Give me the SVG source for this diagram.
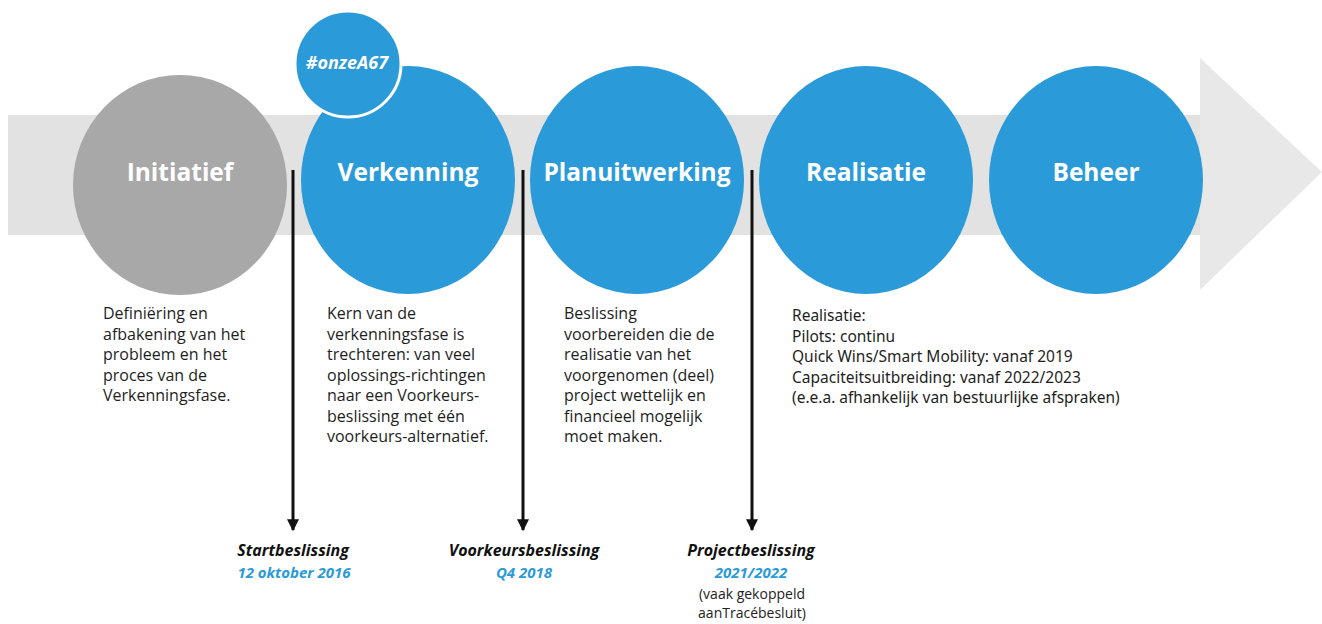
<svg xmlns="http://www.w3.org/2000/svg" width="1322" height="624" viewBox="0 0 1322 624">
<defs>
<style>
.phase{font-family:"Open Sans","Liberation Sans",sans-serif;font-weight:700;font-size:24.5px;fill:#fff;text-anchor:middle}
.desc{font-family:"Open Sans","Liberation Sans",sans-serif;font-size:16px;fill:#1e1e1e}
.desc2{font-family:"Noto Sans","Liberation Sans",sans-serif;font-size:15.5px;fill:#1e1e1e}
.ms{font-family:"Open Sans","Liberation Sans",sans-serif;font-weight:700;font-style:italic;font-size:16px;fill:#111;text-anchor:middle}
.date{font-family:"Open Sans","Liberation Sans",sans-serif;font-weight:700;font-style:italic;font-size:15px;fill:#2a9ad8;text-anchor:middle}
.note{font-family:"Open Sans","Liberation Sans",sans-serif;font-size:14px;fill:#222;text-anchor:middle}
.blue{fill:#2a9ad8}
.vline{stroke:#111;stroke-width:3}
</style>
<marker id="ah" viewBox="0 0 10 10" refX="9" refY="5" markerWidth="4" markerHeight="4" orient="auto" markerUnits="strokeWidth">
<path d="M0,0 L10,5 L0,10 z" fill="#111"/>
</marker>
</defs>
<rect width="1322" height="624" fill="#fff"/>
<g id="band">
<rect x="8" y="115" width="1194" height="120" fill="#e2e2e2"/>
<polygon points="1200,58 1322,172 1200,290" fill="#e8e8e8"/>
</g>
<g id="connectors">
<line class="vline" x1="293" y1="170" x2="293" y2="530" marker-end="url(#ah)"/>
<line class="vline" x1="523" y1="170" x2="523" y2="530" marker-end="url(#ah)"/>
<line class="vline" x1="752" y1="170" x2="752" y2="530" marker-end="url(#ah)"/>
</g>
<g id="initiatief">
<ellipse cx="180" cy="185" rx="107" ry="110" fill="#a8a8a8"/>
<text class="phase" x="180" y="181">Initiatief</text>
</g>
<g id="verkenning">
<ellipse class="blue" cx="408" cy="180" rx="107" ry="114"/>
<text class="phase" x="408" y="181">Verkenning</text>
</g>
<g id="onzeA67">
<circle class="blue" cx="348" cy="64" r="53" stroke="#fff" stroke-width="3"/>
<text x="347" y="69" font-family="Open Sans, Liberation Sans, sans-serif" font-weight="700" font-style="italic" font-size="18" fill="#fff" text-anchor="middle">#onzeA67</text>
</g>
<g id="planuitwerking">
<ellipse class="blue" cx="637" cy="180" rx="107" ry="114"/>
<text class="phase" x="637" y="181">Planuitwerking</text>
</g>
<g id="realisatie">
<ellipse class="blue" cx="866" cy="180" rx="107" ry="114"/>
<text class="phase" x="866" y="181">Realisatie</text>
</g>
<g id="beheer">
<ellipse class="blue" cx="1096" cy="180" rx="107" ry="114"/>
<text class="phase" x="1096" y="181">Beheer</text>
</g>
<g id="desc-initiatief">
<text class="desc" x="103" y="319">Definiëring en</text>
<text class="desc" x="103" y="339.5">afbakening van het</text>
<text class="desc" x="103" y="360">probleem en het</text>
<text class="desc" x="103" y="380.5">proces van de</text>
<text class="desc" x="103" y="401">Verkenningsfase.</text>
</g>
<g id="desc-verkenning">
<text class="desc" x="327" y="319">Kern van de</text>
<text class="desc" x="327" y="339.5">verkenningsfase is</text>
<text class="desc" x="327" y="360">trechteren: van veel</text>
<text class="desc" x="327" y="380.5">oplossings-richtingen</text>
<text class="desc" x="327" y="401">naar een Voorkeurs-</text>
<text class="desc" x="327" y="421.5">beslissing met één</text>
<text class="desc" x="327" y="442">voorkeurs-alternatief.</text>
</g>
<g id="desc-planuitwerking">
<text class="desc" x="564" y="319">Beslissing</text>
<text class="desc" x="564" y="339.5">voorbereiden  die de</text>
<text class="desc" x="564" y="360">realisatie van het</text>
<text class="desc" x="564" y="380.5">voorgenomen (deel)</text>
<text class="desc" x="564" y="401">project wettelijk en</text>
<text class="desc" x="564" y="421.5">financieel mogelijk</text>
<text class="desc" x="564" y="442">moet maken.</text>
</g>
<g id="desc-realisatie">
<text class="desc2" x="792" y="321">Realisatie:</text>
<text class="desc2" x="792" y="341.5">Pilots: continu</text>
<text class="desc2" x="792" y="362">Quick Wins/Smart Mobility: vanaf 2019</text>
<text class="desc2" x="792" y="382.5">Capaciteitsuitbreiding: vanaf 2022/2023</text>
<text class="desc2" x="792" y="403">(e.e.a. afhankelijk van bestuurlijke afspraken)</text>
</g>
<g id="ms-start">
<text class="ms" x="293" y="556">Startbeslissing</text>
<text class="date" x="294" y="578">12 oktober 2016</text>
</g>
<g id="ms-voorkeur">
<text class="ms" x="524" y="556">Voorkeursbeslissing</text>
<text class="date" x="524" y="578">Q4 2018</text>
</g>
<g id="ms-project">
<text class="ms" x="751" y="556">Projectbeslissing</text>
<text class="date" x="751" y="578">2021/2022</text>
<text class="note" x="752" y="599">(vaak gekoppeld</text>
<text class="note" x="752" y="618">aanTracébesluit)</text>
</g>
</svg>
